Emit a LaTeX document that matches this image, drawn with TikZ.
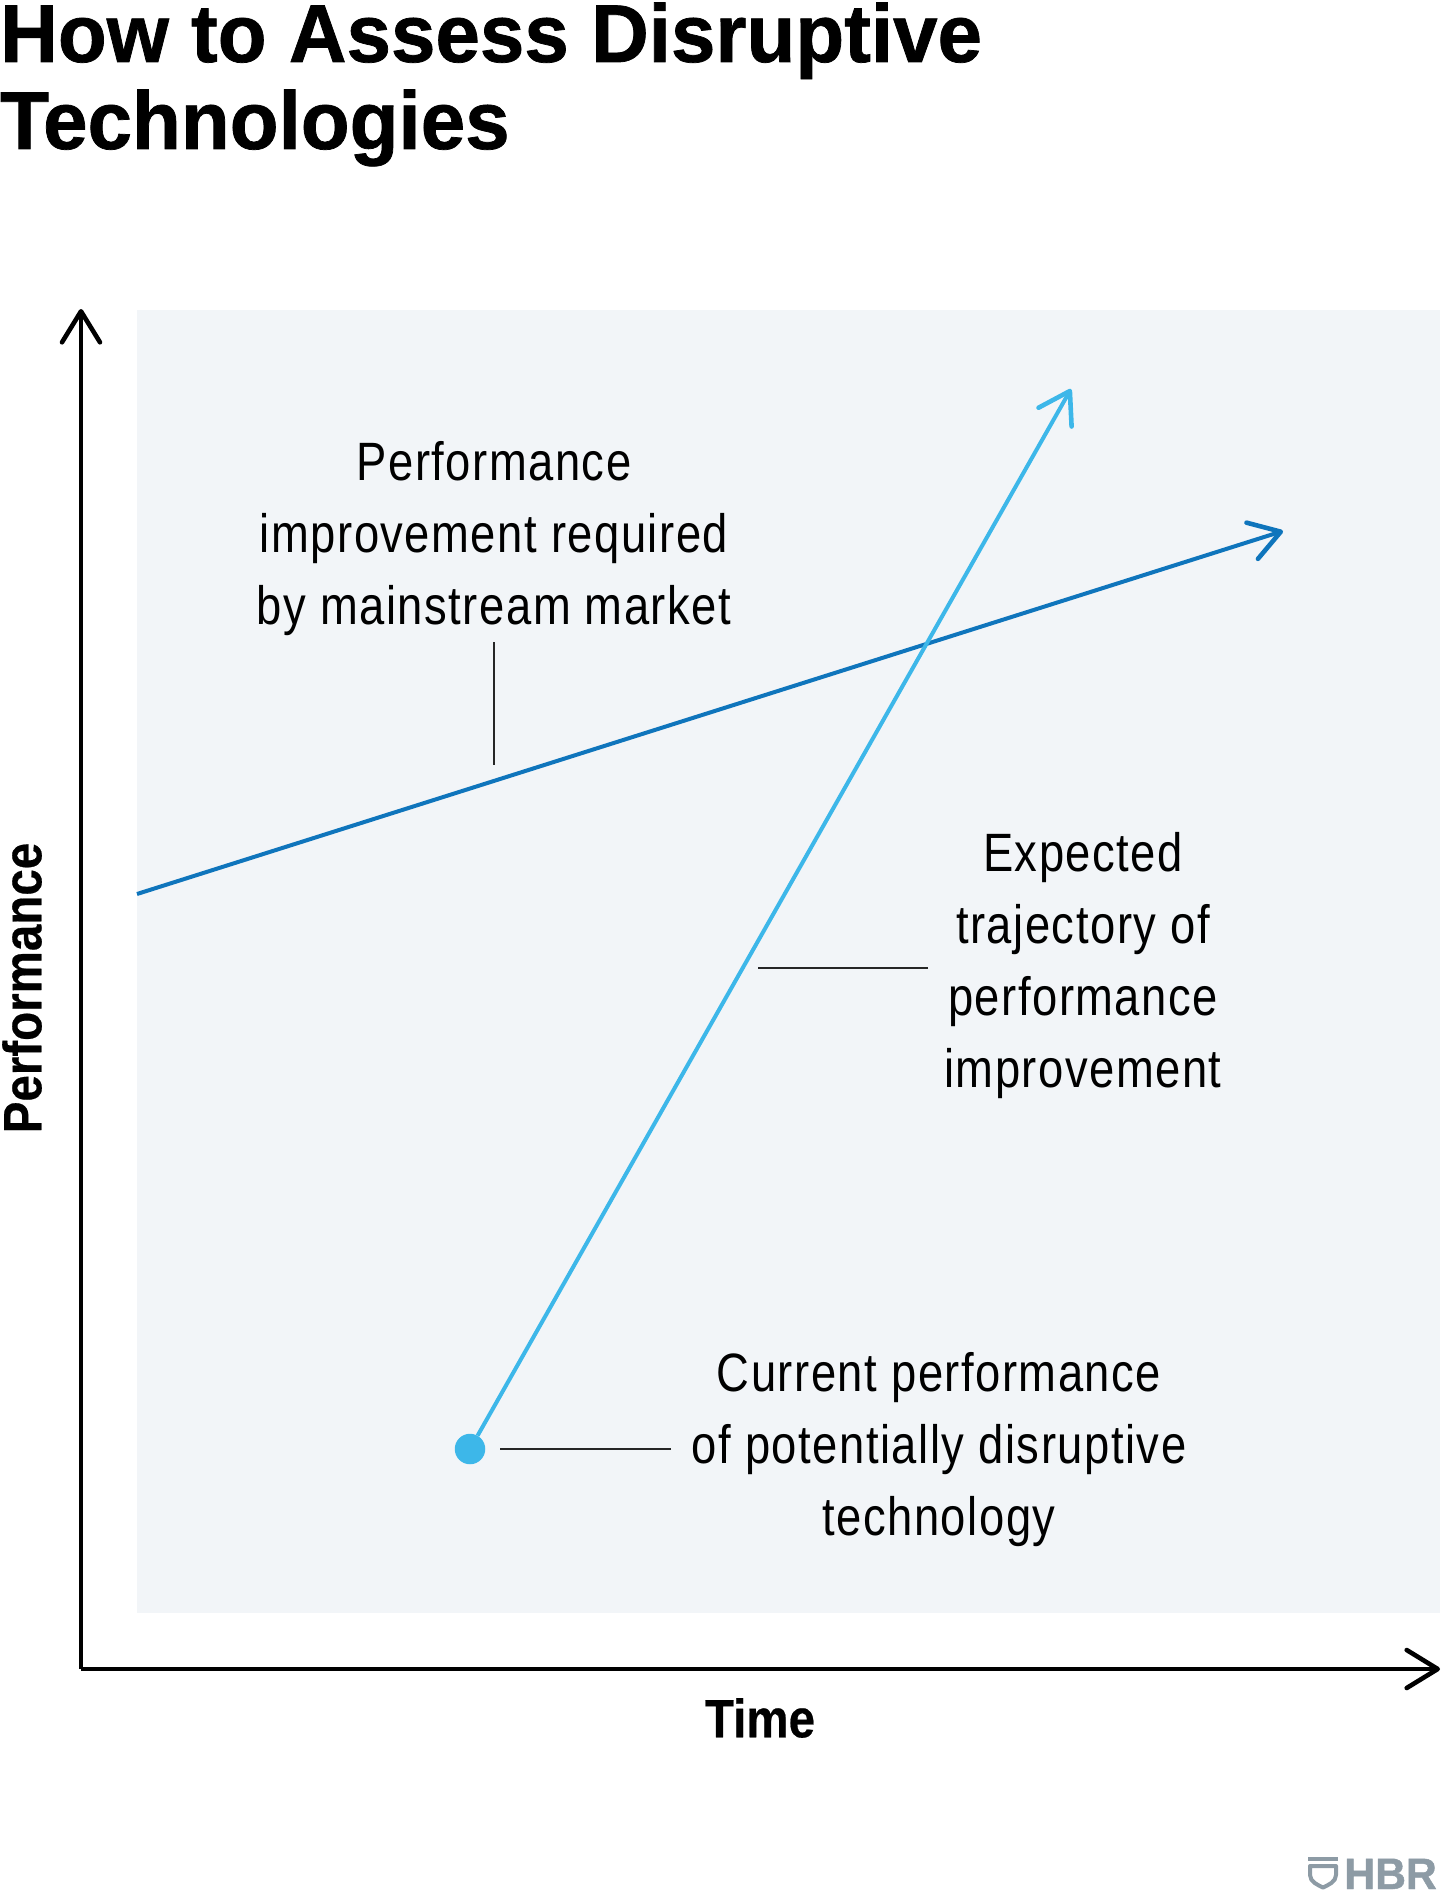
\documentclass[tikz,border=0pt]{standalone}
\usepackage{xcolor}
\usepackage{fontspec}
\setmainfont{Liberation Sans}
\newfontfamily\headfont[FakeStretch=0.975,FakeBold=0.9]{Liberation Sans Bold}
\newfontfamily\notefont[FakeStretch=0.84,LetterSpace=2.8]{Liberation Sans}
\newfontfamily\axisfont[FakeStretch=0.88,FakeBold=0.4]{Liberation Sans Bold}
\newfontfamily\logofont[FakeStretch=0.97,FakeBold=1]{Liberation Sans Bold}
\usetikzlibrary{positioning,calc,arrows.meta}
\definecolor{panelgray}{HTML}{F2F5F8}
\definecolor{marketblue}{HTML}{0F75BC}
\definecolor{techcyan}{HTML}{3DB7E9}
\definecolor{logogray}{HTML}{8D9BA5}
\tikzset{
	note/.style={align=center, inner sep=0pt, font=\notefont\fontsize{54}{72}\selectfont},
	axislabel/.style={inner sep=0pt, font=\axisfont\fontsize{54}{60}\selectfont},
	leader/.style={draw=black!85, line width=1.5pt},
	axis/.style={draw=black, line width=3.6pt, -{Straight Barb[length=31pt,width=38pt,line width=4.6pt,round]}},
	trend/.style={line width=4pt, -{Straight Barb[length=30pt,width=38pt,line width=4.6pt,round]}}
}
\begin{document}
\begin{tikzpicture}[x=1pt, y=-1pt]
	\useasboundingbox (0,0) rectangle (1440,1892);
	\node[anchor=north west, fill=panelgray, minimum width=1303pt, minimum height=1303pt, inner sep=0pt, name=panel] at (137,310) {};

	\node[anchor=base west, inner sep=0pt, font=\headfont\fontsize{82}{87}\selectfont, name=headone] at (0,62) {How to Assess Disruptive};
	\node[anchor=base west, inner sep=0pt, font=\headfont\fontsize{82}{87}\selectfont, name=headtwo] at (0,149) {Technologies};

	% axes
	\coordinate (origin) at (81,1669);
	\coordinate (ytip) at (81,309);
	\coordinate (xtip) at (1440,1669);
	\draw[axis] (origin) -- (ytip);
	\draw[axis] (origin) -- (xtip);
	\node[axislabel, name=timelabel] at (760,1718) {Time};
	\node[axislabel, rotate=90, name=perflabel] at (22,988) {Performance};

	% the two lines
	\coordinate (marketstart) at (137,894);
	\coordinate (markettip) at (1283,531);
	\coordinate (techtip) at (1071,389);
	\node[circle, fill=techcyan, minimum size=30.5pt, inner sep=0pt, name=techdot] at (470,1449) {};
	\draw[trend, marketblue] (marketstart) -- (markettip);
	\draw[trend, techcyan] (techdot) -- (techtip);

	% notes and their leaders
	\node[note, name=marketnote] at (494,539) {Performance\\improvement required\\by mainstream market};
	\node[note, name=expectnote] at (1083,966) {Expected\\trajectory of\\performance\\improvement};
	\node[note, name=currentnote] at (939,1450) {Current performance\\of potentially disruptive\\technology};
	\coordinate (marketfoot) at (494,765);
	\coordinate (marketleadtop) at (494,642);
	\coordinate (expectfoot) at (758,968);
	\coordinate (expectlead) at (928,968);
	\coordinate (currentfoot) at (500,1449);
	\coordinate (currentlead) at (671,1449);
	\draw[leader] (marketleadtop) -- (marketfoot);
	\draw[leader] (expectlead) -- (expectfoot);
	\draw[leader] (currentlead) -- (currentfoot);

	% logo
	\node[anchor=base east, inner sep=0pt, text=logogray, font=\logofont\fontsize{44}{45}\selectfont, name=logotext] at (1437,1889) {HBR};
	\fill[logogray] (1308,1857) rectangle (1338,1861);
	\draw[logogray, line width=4pt, line join=round] (1310,1866) -- (1336,1866) -- (1336,1875) .. controls (1336,1882) and (1328,1885) .. (1323,1887.5) .. controls (1318,1885) and (1310,1882) .. (1310,1875) -- cycle;
\end{tikzpicture}
\end{document}
